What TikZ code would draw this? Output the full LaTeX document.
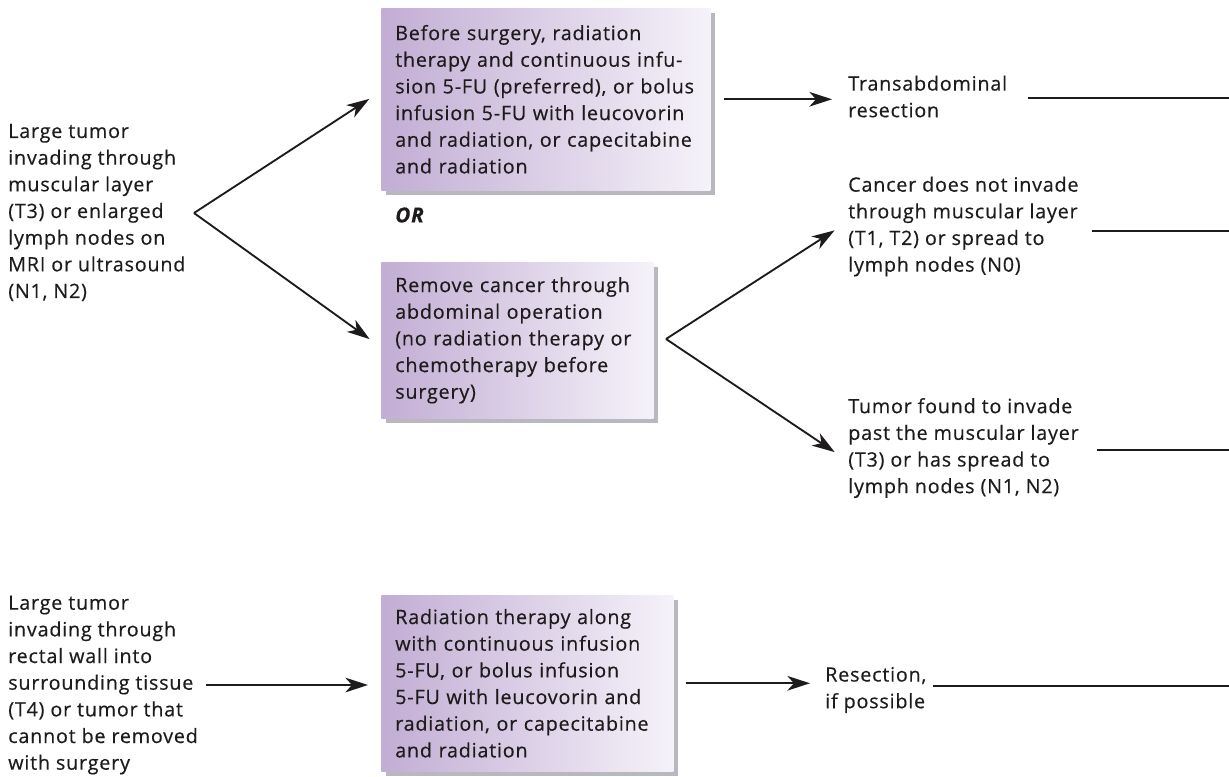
\documentclass[tikz,border=0pt]{standalone}
\usepackage{fontspec}
\setmainfont{Open Sans}[LetterSpace=4.0, FakeBold=0.4]
\usetikzlibrary{arrows.meta,shadows}
\definecolor{boxL}{RGB}{194,173,212}
\definecolor{boxR}{RGB}{245,242,249}
\definecolor{shadowgray}{RGB}{184,185,190}
\definecolor{ink}{RGB}{30,27,28}

\begin{document}
\begin{tikzpicture}[x=0.75pt,y=-0.75pt,
  basefont/.style={font=\fontsize{14.8pt}{20pt}\selectfont},
  every node/.style={basefont, text=ink},
  label/.style={align=left, anchor=west, inner sep=0pt},
  stepbox/.style={anchor=north west, align=left, inner xsep=10.5pt, inner ysep=0pt,
    left color=boxL, right color=boxR,
    general shadow={fill=shadowgray, shadow xshift=3.75pt, shadow yshift=-3.75pt}},
  link/.style={draw=ink, line width=1.4pt, -{Stealth[length=17pt,width=11pt,inset=5pt]}},
  lead/.style={draw=ink, line width=1.4pt}
]
\useasboundingbox (0,0) rectangle (1229,776);

% --- T3 / N1-N2 branch ---
\node[label] (t1) at (8,212.5) {Large tumor\\invading through\\muscular layer\\(T3) or enlarged\\lymph nodes on\\MRI or ultrasound\\(N1, N2)};
\coordinate (v1) at (194,213);

\node[stepbox, text width=225.75pt, minimum height=136.5pt] (b1) at (381,8)
  {Before surgery, radiation\\therapy and continuous infu-\\sion 5-FU (preferred), or bolus\\infusion 5-FU with leucovorin\\and radiation, or capecitabine\\and radiation};

\node[label, font=\fontsize{15.5pt}{20pt}\selectfont\bfseries\itshape] (or) at (395,215) {OR};

\node[stepbox, text width=183pt, minimum height=117pt] (b2) at (381,262)
  {Remove cancer through\\abdominal operation\\(no radiation therapy or\\chemotherapy before\\surgery)};
\coordinate (v2) at (666,339);

\node[label] (trans) at (848,96.5) {Transabdominal\\resection};
\node[label] (c1) at (848,226.5) {Cancer does not invade\\through muscular layer\\(T1, T2) or spread to\\lymph nodes (N0)};
\node[label] (c2) at (848,448) {Tumor found to invade\\past the muscular layer\\(T3) or has spread to\\lymph nodes (N1, N2)};

\draw[link, shorten >=10.5pt] (v1) -- ([yshift=6pt]b1.west);
\draw[link, shorten >=10.5pt] (v1) -- ([yshift=-5.25pt]b2.west);
\draw[link, shorten <=9.75pt, shorten >=12pt] (b1.east) -- (b1.east -| trans.west);
\draw[link, shorten >=12pt] (v2) -- ([yshift=3.6pt]c1.west);
\draw[link, shorten >=12pt] (v2) -- ([yshift=-9.75pt]c2.west);

\coordinate (s1) at (1028,98);  \coordinate (e1) at (1229,98);
\coordinate (s2) at (1092,231); \coordinate (e2) at (1229,231);
\coordinate (s3) at (1097,450); \coordinate (e3) at (1229,450);
\draw[lead] (s1) -- (e1);
\draw[lead] (s2) -- (e2);
\draw[lead] (s3) -- (e3);

% --- T4 / unresectable branch ---
\node[label] (t2) at (8,685) {Large tumor\\invading through\\rectal wall into\\surrounding tissue\\(T4) or tumor that\\cannot be removed\\with surgery};

\node[stepbox, text width=198pt, minimum height=132pt] (b3) at (381,595)
  {Radiation therapy along\\with continuous infusion\\5-FU, or bolus infusion\\5-FU with leucovorin and\\radiation, or capecitabine\\and radiation};

\node[label] (res) at (825,690) {Resection,\\if possible};

\draw[link, shorten <=6pt, shorten >=9.75pt] (t2.east) -- (t2.east -| b3.west);
\draw[link, shorten <=9pt, shorten >=11.25pt] (b3.east) -- (b3.east -| res.west);

\coordinate (s4) at (933,686); \coordinate (e4) at (1229,686);
\draw[lead] (s4) -- (e4);
\end{tikzpicture}
\end{document}
